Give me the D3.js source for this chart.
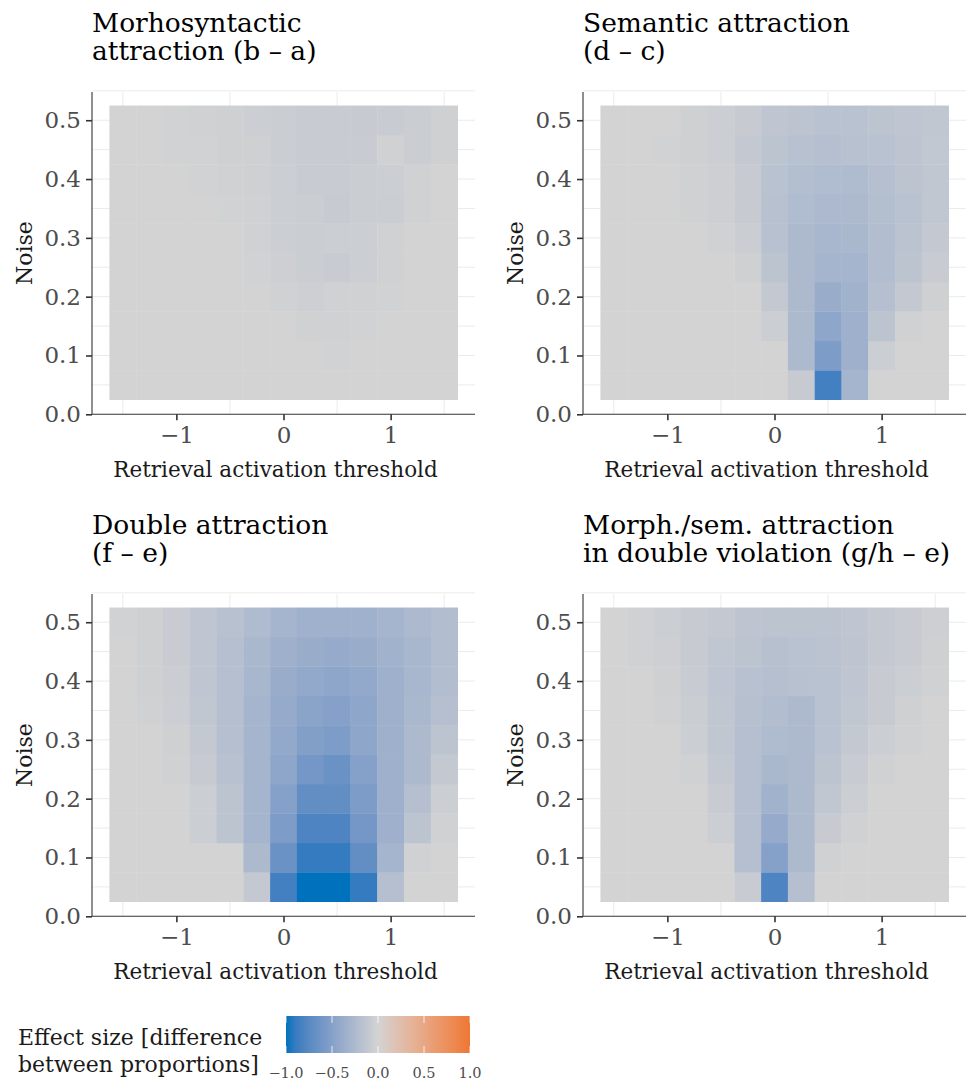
<!DOCTYPE html>
<html>
<head>
<meta charset="utf-8">
<script src="https://cdn.jsdelivr.net/npm/d3@7"></script>
<style>
  body { margin: 0; background: #fff; }
  svg text { font-family: "DejaVu Serif", serif; }
</style>
</head>
<body>
<div id="chart"></div>
<script>
// retrieval activation threshold (columns) and noise (rows, bottom to top)
const thresholds = [-1.5, -1.25, -1, -0.75, -0.5, -0.25, 0, 0.25, 0.5, 0.75, 1, 1.25, 1.5];
const noiseLevels = [0.05, 0.1, 0.15, 0.2, 0.25, 0.3, 0.35, 0.4, 0.45, 0.5];
const xTicks = [-1, 0, 1];
const yTicks = [0, 0.1, 0.2, 0.3, 0.4, 0.5];
const legendTicks = [-1, -0.5, 0, 0.5, 1];

const titles = [
  ["Morhosyntactic", "attraction (b \u2013 a)"],
  ["Semantic attraction", "(d \u2013 c)"],
  ["Double attraction", "(f \u2013 e)"],
  ["Morph./sem. attraction", "in double violation (g/h \u2013 e)"]
];

// effect sizes, one row per noise level (0.05 first)
const morphosyntactic = [
  [0, 0, 0, 0, 0, 0, 0, 0, 0, 0, 0, 0, 0],
  [0, 0, 0, 0, 0, 0, 0, 0, -0.01, 0, 0, 0, 0],
  [0, 0, 0, 0, 0, 0, 0, -0.02, -0.02, -0.01, 0, 0, 0],
  [0, 0, 0, 0, 0, 0, -0.02, -0.04, -0.02, -0.02, -0.01, 0, 0],
  [0, 0, 0, 0, 0, -0.01, -0.04, -0.06, -0.07, -0.05, -0.02, 0, 0],
  [0, 0, 0, 0, 0, -0.02, -0.05, -0.06, -0.05, -0.05, -0.02, 0, 0],
  [0, 0, 0, 0, -0.01, -0.02, -0.05, -0.06, -0.08, -0.06, -0.06, -0.02, 0],
  [0, 0, 0, -0.01, -0.02, -0.03, -0.05, -0.07, -0.07, -0.06, -0.05, -0.02, 0],
  [0, 0, -0.01, -0.01, -0.03, -0.03, -0.06, -0.07, -0.07, -0.07, -0.02, -0.06, -0.03],
  [0, 0, -0.01, -0.02, -0.03, -0.05, -0.06, -0.07, -0.07, -0.08, -0.07, -0.06, -0.03]
];
const semantic = [
  [0, 0, 0, 0, 0, 0, 0, -0.08, -0.85, -0.3, 0, 0, 0],
  [0, 0, 0, 0, 0, 0, 0, -0.25, -0.55, -0.35, -0.05, 0, 0],
  [0, 0, 0, 0, 0, 0, -0.05, -0.25, -0.45, -0.35, -0.15, -0.02, 0],
  [0, 0, 0, 0, 0, 0, -0.1, -0.25, -0.38, -0.33, -0.2, -0.1, -0.03],
  [0, 0, 0, 0, 0, -0.03, -0.15, -0.25, -0.3, -0.3, -0.22, -0.15, -0.07],
  [0, 0, 0, 0, -0.02, -0.06, -0.18, -0.25, -0.28, -0.27, -0.22, -0.16, -0.1],
  [0, 0, 0, -0.02, -0.04, -0.08, -0.18, -0.23, -0.26, -0.25, -0.21, -0.17, -0.12],
  [0, 0, 0, -0.02, -0.04, -0.08, -0.17, -0.21, -0.23, -0.24, -0.2, -0.15, -0.12],
  [0, 0, -0.01, -0.03, -0.05, -0.1, -0.15, -0.18, -0.2, -0.18, -0.17, -0.14, -0.11],
  [0, 0, 0, -0.03, -0.05, -0.08, -0.13, -0.15, -0.17, -0.17, -0.15, -0.13, -0.12]
];
const doubleAttr = [
  [0, 0, 0, 0, 0, -0.1, -0.85, -1, -1, -0.9, -0.2, 0, 0],
  [0, 0, 0, 0, 0, -0.25, -0.65, -0.9, -0.9, -0.7, -0.3, -0.02, 0],
  [0, 0, 0, -0.05, -0.15, -0.3, -0.55, -0.8, -0.8, -0.6, -0.35, -0.15, -0.02],
  [0, 0, 0, -0.05, -0.15, -0.3, -0.5, -0.7, -0.7, -0.55, -0.35, -0.2, -0.05],
  [0, 0, -0.02, -0.08, -0.18, -0.3, -0.45, -0.6, -0.65, -0.5, -0.35, -0.25, -0.1],
  [0, 0, -0.03, -0.1, -0.2, -0.3, -0.42, -0.52, -0.55, -0.45, -0.35, -0.25, -0.15],
  [0, -0.02, -0.05, -0.12, -0.2, -0.3, -0.4, -0.48, -0.5, -0.45, -0.35, -0.27, -0.2],
  [0, -0.03, -0.06, -0.13, -0.2, -0.28, -0.38, -0.42, -0.45, -0.42, -0.35, -0.28, -0.22],
  [0, -0.03, -0.07, -0.13, -0.2, -0.27, -0.35, -0.38, -0.4, -0.38, -0.33, -0.28, -0.22],
  [-0.01, -0.03, -0.07, -0.13, -0.18, -0.24, -0.3, -0.34, -0.34, -0.34, -0.3, -0.26, -0.22]
];
const doubleViolation = [
  [0, 0, 0, 0, 0, -0.07, -0.8, -0.2, 0, 0, 0, 0, 0],
  [0, 0, 0, 0, 0, -0.2, -0.5, -0.25, -0.02, 0, 0, 0, 0],
  [0, 0, 0, 0, -0.05, -0.2, -0.4, -0.25, -0.08, -0.02, 0, 0, 0],
  [0, 0, 0, 0, -0.07, -0.2, -0.33, -0.25, -0.12, -0.05, 0, 0, 0],
  [0, 0, 0, -0.02, -0.1, -0.2, -0.27, -0.25, -0.15, -0.07, -0.02, 0, 0],
  [0, 0, 0, -0.05, -0.12, -0.2, -0.24, -0.25, -0.17, -0.1, -0.05, -0.02, 0],
  [0, 0, -0.02, -0.06, -0.12, -0.19, -0.22, -0.25, -0.17, -0.12, -0.08, -0.03, 0],
  [0, 0, -0.03, -0.07, -0.13, -0.18, -0.2, -0.18, -0.17, -0.13, -0.08, -0.05, -0.02],
  [0, -0.02, -0.04, -0.08, -0.12, -0.15, -0.19, -0.17, -0.16, -0.14, -0.1, -0.07, -0.03],
  [0, -0.02, -0.05, -0.08, -0.1, -0.14, -0.15, -0.15, -0.15, -0.13, -0.1, -0.07, -0.04]
];
const panelData = [morphosyntactic, semantic, doubleAttr, doubleViolation];

const width = 968, height = 1082;
const svg = d3.select("#chart").append("svg")
  .attr("width", width)
  .attr("height", height);

// diverging fill, interpolated in Lab like ggplot's gradient2
const fill = d3.scaleLinear()
  .domain([-1, 0, 1])
  .range(["#0072bd", "#d3d3d3", "#ee7733"])
  .interpolate(d3.interpolateLab)
  .clamp(true);

const panelW = 383, panelTop = 92, panelBottom = 414.3;
const offsets = [[92, 0], [583, 0], [92, 502], [583, 502]];

const tiles = [];
panelData.forEach(function(m, p) {
  m.forEach(function(row, r) {
    row.forEach(function(v, c) {
      tiles.push({panel: p, x: thresholds[c], y: noiseLevels[r], value: v});
    });
  });
});

offsets.forEach(function(off, p) {
  const g = svg.append("g").attr("transform", `translate(${off[0]}, ${off[1]})`);

  const x = d3.scaleLinear().domain([-1.7875, 1.7875]).range([0, panelW]);
  const y = d3.scaleLinear().domain([0, 0.548]).range([panelBottom, panelTop]);

  // grid
  g.append("g").selectAll("line.h")
    .data(d3.range(1, 12).map(i => i * 0.05))
    .enter().append("line")
      .attr("x1", 0).attr("x2", panelW)
      .attr("y1", d => y(d)).attr("y2", d => y(d))
      .attr("stroke", "#ebebeb").attr("stroke-width", 1);
  g.append("g").selectAll("line.v")
    .data([-1.5, -0.5, 0.5, 1.5])
    .enter().append("line")
      .attr("x1", d => x(d)).attr("x2", d => x(d))
      .attr("y1", panelTop).attr("y2", panelBottom)
      .attr("stroke", "#ebebeb").attr("stroke-width", 1);

  // tiles
  g.append("g").selectAll("rect")
    .data(tiles.filter(t => t.panel === p))
    .enter().append("rect")
      .attr("x", d => x(d.x - 0.125))
      .attr("y", d => y(d.y + 0.025))
      .attr("width", d => x(d.x + 0.125) - x(d.x - 0.125) + 0.4)
      .attr("height", d => y(d.y - 0.025) - y(d.y + 0.025) + 0.4)
      .attr("fill", d => fill(d.value));

  // axes
  const xAxis = g.append("g")
    .attr("transform", `translate(0, ${panelBottom})`)
    .call(d3.axisBottom(x).tickValues(xTicks).tickSize(6).tickPadding(6)
      .tickFormat(d => d < 0 ? "\u2212" + Math.abs(d) : d));
  const yAxis = g.append("g")
    .call(d3.axisLeft(y).tickValues(yTicks).tickSize(6).tickPadding(5).tickFormat(d3.format(".1f")));
  [xAxis, yAxis].forEach(function(a) {
    a.select(".domain").attr("stroke", "#333").attr("stroke-width", 1.1)
      .attr("d", a === xAxis ? `M0,0H${panelW}` : `M0,${panelBottom}V${panelTop}`);
    a.selectAll(".tick line").attr("stroke", "#333").attr("stroke-width", 1.6);
    a.selectAll(".tick text").attr("fill", "#4d4d4d").style("font-size", "23px");
  });

  g.append("text")
    .attr("x", panelW / 2 - 8)
    .attr("y", 477)
    .attr("text-anchor", "middle")
    .style("font-size", "21.5px")
    .attr("fill", "#1a1a1a")
    .text("Retrieval activation threshold");

  g.append("text")
    .attr("transform", `translate(${-60}, ${(panelTop + panelBottom) / 2}) rotate(-90)`)
    .attr("text-anchor", "middle")
    .style("font-size", "22px")
    .attr("fill", "#1a1a1a")
    .text("Noise");

  titles[p].forEach(function(line, i) {
    g.append("text")
      .attr("x", 0)
      .attr("y", 32 + i * 28)
      .style("font-size", "26.5px")
      .attr("fill", "#000")
      .text(line);
  });
});

// legend
const lg = svg.append("g");
lg.append("text").attr("x", 18).attr("y", 1045).style("font-size", "22px").attr("fill", "#1a1a1a")
  .text("Effect size [difference");
lg.append("text").attr("x", 18).attr("y", 1072).style("font-size", "22px").attr("fill", "#1a1a1a")
  .text("between proportions]");

const lx = d3.scaleLinear().domain([-1, 1]).range([286, 470]);
const defs = svg.append("defs");
const grad = defs.append("linearGradient").attr("id", "effectGrad");
d3.range(0, 21).forEach(function(i) {
  const v = -1 + i * 0.1;
  grad.append("stop").attr("offset", (i / 20 * 100) + "%").attr("stop-color", fill(v));
});
lg.append("rect")
  .attr("x", lx(-1)).attr("y", 1016)
  .attr("width", lx(1) - lx(-1)).attr("height", 37)
  .attr("fill", "url(#effectGrad)");
lg.selectAll("g.tk")
  .data(legendTicks)
  .enter().append("g")
  .each(function(d) {
    const s = d3.select(this);
    s.append("line").attr("x1", lx(d)).attr("x2", lx(d)).attr("y1", 1016).attr("y2", 1023)
      .attr("stroke", "#fff").attr("stroke-width", 0.8);
    s.append("line").attr("x1", lx(d)).attr("x2", lx(d)).attr("y1", 1046).attr("y2", 1053)
      .attr("stroke", "#fff").attr("stroke-width", 0.8);
  });
lg.selectAll("text.tl")
  .data(legendTicks)
  .enter().append("text")
    .attr("x", d => lx(d))
    .attr("y", 1078)
    .attr("text-anchor", "middle")
    .style("font-size", "14.5px")
    .attr("fill", "#4d4d4d")
    .text(d => (d < 0 ? "\u2212" : "") + Math.abs(d).toFixed(1));
</script>
</body>
</html>
